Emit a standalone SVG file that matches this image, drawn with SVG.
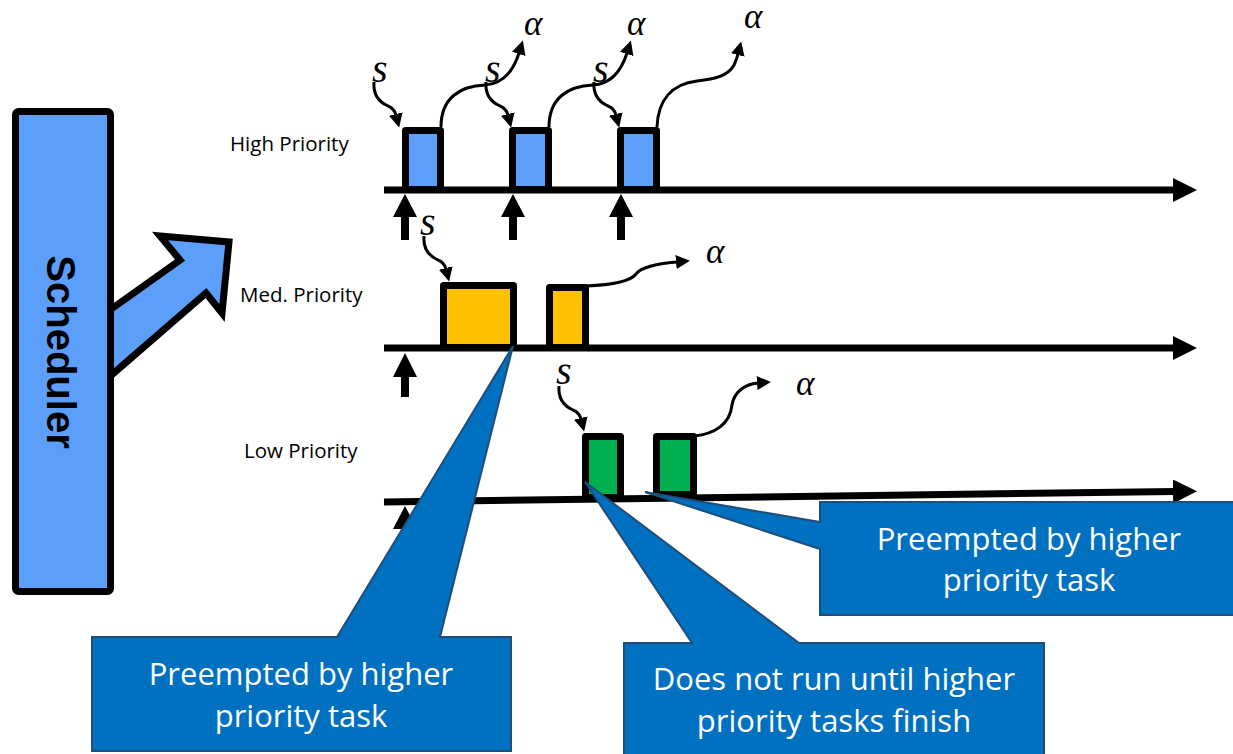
<svg xmlns="http://www.w3.org/2000/svg" width="1233" height="754" viewBox="0 0 1233 754">
  <defs>
    <style>
      .lbl { font-family: "Open Sans", "Liberation Sans", sans-serif; font-size: 20.5px; fill: #000; }
      .math { font-family: "Liberation Serif", "DejaVu Serif", serif; font-style: italic; font-size: 35px; fill: #000; }
      .ms { font-size: 40px; }
      .axis { fill: none; stroke: #000; stroke-width: 7; marker-end: url(#axisHead); }
      .task { stroke: #000; stroke-width: 7; stroke-linejoin: round; }
      .hi { fill: #5C9FFA; }
      .med { fill: #FFC000; }
      .low { fill: #00B050; }
      .flow { fill: none; stroke: #000; stroke-width: 3; marker-end: url(#flowHead); }
      .up { fill: #000; }
      .callout { fill: #0070C0; stroke: #1F4E79; stroke-width: 2; stroke-linejoin: miter; }
      .ctext { font-family: "Open Sans", "Liberation Sans", sans-serif; font-size: 31px; fill: #fff; text-anchor: middle; }
    </style>
    <marker id="axisHead" markerUnits="userSpaceOnUse" viewBox="0 0 24 24" markerWidth="24" markerHeight="24" refX="2" refY="12" orient="auto">
      <path d="M0,0 L24,12 L0,24 Z" fill="#000"/>
    </marker>
    <marker id="flowHead" markerUnits="userSpaceOnUse" viewBox="0 0 14 14" markerWidth="14" markerHeight="14" refX="1" refY="7" orient="auto">
      <path d="M0,0 L14,7 L0,14 Z" fill="#000"/>
    </marker>
  </defs>

  <!-- Scheduler block with its dispatch arrow -->
  <g id="scheduler">
    <polygon points="100,317 180,260 160,236 229,242 222,313 206,293 100,385" fill="#5C9FFA" stroke="#000" stroke-width="7" stroke-linejoin="miter"/>
    <rect x="15.5" y="111.5" width="95" height="480" rx="3" fill="#5C9FFA" stroke="#000" stroke-width="7"/>
    <text transform="translate(47,352) rotate(90)" text-anchor="middle" font-family="'Liberation Sans', Arial, sans-serif" font-weight="bold" font-size="40">Scheduler</text>
  </g>

  <!-- Priority labels -->
  <g id="labels">
    <text class="lbl" x="230" y="151">High Priority</text>
    <text class="lbl" x="240" y="302">Med. Priority</text>
    <text class="lbl" x="244" y="458">Low Priority</text>
  </g>

  <!-- Time axes -->
  <g id="connectors">
    <path class="axis" d="M384,190 L1175,190"/>
    <path class="axis" d="M384,348 L1175,348"/>
    <path class="axis" d="M384,502 L1175,491.5"/>

    <!-- release arrows -->
    <path class="up" d="M405,194 L417,217 L409,217 L409,240 L401,240 L401,217 L393,217 Z"/>
    <path class="up" d="M513,194 L525,217 L517,217 L517,240 L509,240 L509,217 L501,217 Z"/>
    <path class="up" d="M621,194 L633,217 L625,217 L625,240 L617,240 L617,217 L609,217 Z"/>
    <path class="up" d="M405,353 L417,377 L409,377 L409,397 L401,397 L401,377 L393,377 Z"/>
    <path class="up" d="M405,506 L417,529 L409,529 L409,550 L401,550 L401,529 L393,529 Z"/>

    <!-- start (s) arrows -->
    <path class="flow" d="M374,82 C373,94 379,102 388,106 C393,108 395,111 396,115"/>
    <path class="flow" d="M486,82 C485,94 491,102 500,106 C505,108 507,111 508,115"/>
    <path class="flow" d="M594,82 C593,94 599,102 608,106 C613,108 615,111 616,115"/>
    <path class="flow" d="M424,236 C423,248 429,256 438,260 C443,262 445,265 446,269"/>
    <path class="flow" d="M559,386 C558,398 564,406 573,410 C578,412 580,415 581,419"/>

    <!-- completion (alpha) arrows -->
    <path class="flow" d="M441,127 C441,98 460,86 485,85 C502,84 513,72 519,53"/>
    <path class="flow" d="M549,127 C549,98 568,86 593,85 C610,84 621,72 627,53"/>
    <path class="flow" d="M657,127 C658,100 672,84 697,81 C715,79 728,76 734,65 C736,61 737,58 738,54"/>
    <path class="flow" d="M586,286 C610,285 630,282 636,274 C641,267 655,264 677,262"/>
    <path class="flow" d="M694,436 C715,434 730,424 732,405 C734,392 745,384 758,383"/>
  </g>

  <!-- Task execution slices -->
  <g id="high-tasks">
    <rect class="task hi" x="405.5" y="130.5" width="35" height="59"/>
    <rect class="task hi" x="512.5" y="130.5" width="36" height="59"/>
    <rect class="task hi" x="620.5" y="130.5" width="36" height="59"/>
  </g>
  <g id="med-tasks">
    <rect class="task med" x="443.5" y="285.5" width="70" height="62"/>
    <rect class="task med" x="549.5" y="287.5" width="36" height="60"/>
  </g>
  <g id="low-tasks">
    <rect class="task low" x="585.5" y="436.5" width="35" height="61"/>
    <rect class="task low" x="656.5" y="436.5" width="37" height="58"/>
  </g>

  <!-- s / alpha symbols -->
  <g id="symbols">
    <text class="math ms" x="372" y="82">s</text>
    <text class="math ms" x="485" y="82">s</text>
    <text class="math ms" x="593" y="82">s</text>
    <text class="math ms" x="420" y="235">s</text>
    <text class="math ms" x="556" y="384">s</text>
    <text class="math" x="524" y="35">α</text>
    <text class="math" x="627" y="35">α</text>
    <text class="math" x="744" y="28">α</text>
    <text class="math" x="706" y="263">α</text>
    <text class="math" x="796" y="395">α</text>
  </g>

  <!-- Callouts -->
  <g id="callout-med">
    <path class="callout" d="M92,637 L337,637 L513,346 L440,637 L511,637 L511,751 L92,751 Z"/>
    <text class="ctext" x="301" y="685">Preempted by higher</text>
    <text class="ctext" x="301" y="727">priority task</text>
  </g>
  <g id="callout-low-start">
    <path class="callout" d="M624,643 L692,643 L585,482 L799,643 L1044,643 L1044,760 L624,760 Z"/>
    <text class="ctext" x="834" y="690">Does not run until higher</text>
    <text class="ctext" x="834" y="732">priority tasks finish</text>
  </g>
  <g id="callout-low-preempt">
    <path class="callout" d="M820,502 L1240,502 L1240,615 L820,615 L820,549 L645,492 L820,522 Z"/>
    <text class="ctext" x="1029" y="550">Preempted by higher</text>
    <text class="ctext" x="1029" y="591">priority task</text>
  </g>
</svg>
